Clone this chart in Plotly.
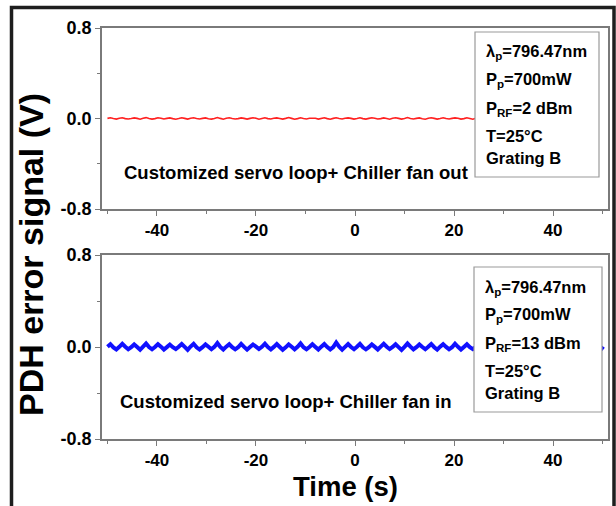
import plotly.graph_objects as go

W, H = 616, 506

# ---------------- data ----------------
t_start = -50.0
t_step = 0.6

red_v = [
    0.001, 0.006, 0.000, -0.005, 0.002, 0.007, -0.001, -0.004,
    0.000, 0.005, 0.001, -0.006, 0.002, 0.008, 0.000, -0.005,
    -0.001, 0.006, 0.002, -0.004, 0.001, 0.005, -0.001, -0.006,
    0.000, 0.007, 0.001, -0.005, 0.002, 0.006, 0.000, -0.004,
    0.001, 0.005, -0.002, -0.005, 0.000, 0.009, 0.001, -0.006,
    0.002, 0.006, 0.000, -0.004, -0.001, 0.005, 0.001, -0.005,
    0.001, 0.007, 0.002, -0.006, 0.000, 0.006, -0.001, -0.004,
    0.002, 0.005, 0.000, -0.005, 0.001, 0.008, 0.001, -0.006,
    -0.001, 0.006, 0.000, -0.004, 0.002, 0.005, 0.002, -0.005,
    0.000, 0.007, -0.001, -0.006, 0.001, 0.006, 0.000, -0.004,
    0.002, 0.005, 0.001, -0.005, 0.000, 0.006, -0.001, -0.005,
    0.001, 0.007, 0.002, -0.004, -0.001, 0.005, 0.000, -0.006,
    0.002, 0.006, 0.001, -0.005, 0.000, 0.008, 0.000, -0.004,
    0.001, 0.005, -0.002, -0.006, 0.002, 0.006, 0.001, -0.005,
    0.000, 0.007, 0.000, -0.004, 0.001, 0.005, 0.002, -0.005,
    -0.001, 0.006, 0.000, -0.006, 0.002, 0.007, -0.001, -0.004,
    0.000, 0.005, 0.001, -0.005, 0.001, 0.006, 0.000, -0.005,
    0.002, 0.008, 0.001, -0.004, 0.000, 0.005, -0.001, -0.006,
    0.001, 0.006, 0.002, -0.005, -0.001, 0.007, 0.000, -0.004,
    0.002, 0.005, 0.001, -0.005, 0.000, 0.006, 0.000, -0.005,
    0.001, 0.007, -0.001, -0.004,
]

blue_v = [
    0.002, 0.024, -0.003, -0.021, 0.001, 0.027, 0.002, -0.019,
    -0.002, 0.022, 0.000, -0.024, 0.003, 0.030, -0.001, -0.020,
    0.000, 0.025, 0.003, -0.022, -0.001, 0.021, -0.002, -0.018,
    0.002, 0.026, 0.001, -0.025, 0.004, 0.028, -0.003, -0.021,
    -0.001, 0.023, 0.002, -0.019, 0.001, 0.035, 0.000, -0.022,
    0.003, 0.024, -0.002, -0.020, -0.002, 0.027, 0.001, -0.023,
    0.000, 0.022, 0.003, -0.018, 0.002, 0.029, -0.001, -0.021,
    0.001, 0.025, 0.000, -0.024, -0.003, 0.023, 0.002, -0.020,
    0.002, 0.031, -0.002, -0.019, 0.000, 0.024, 0.001, -0.022,
    0.003, 0.026, -0.001, -0.021, -0.001, 0.038, 0.002, -0.023,
    0.001, 0.025, 0.000, -0.019, 0.002, 0.027, -0.003, -0.020,
    -0.002, 0.023, 0.001, -0.022, 0.003, 0.028, 0.002, -0.018,
    0.000, 0.024, -0.001, -0.025, 0.001, 0.030, 0.003, -0.021,
    -0.001, 0.022, 0.000, -0.019, 0.002, 0.026, -0.002, -0.023,
    0.003, 0.025, 0.001, -0.020, -0.002, 0.029, 0.002, -0.022,
    0.001, 0.024, -0.001, -0.018, 0.000, 0.027, 0.000, -0.021,
    0.002, 0.023, 0.003, -0.024, -0.001, 0.028, -0.002, -0.019,
    0.003, 0.025, 0.001, -0.022, 0.001, 0.026, 0.000, -0.020,
    -0.002, 0.024, 0.002, -0.021, 0.002, 0.029, -0.001, -0.023,
    0.000, 0.023, 0.001, -0.019, 0.001, 0.027, 0.003, -0.022,
    -0.001, 0.025, -0.002, -0.020, 0.002, 0.026, 0.000, -0.021,
]

x_tickvals = [-40, -20, 0, 20, 40]
x_ticktext = ["-40", "-20", "0", "20", "40"]
x_minorvals = [-50, -30, -10, 10, 30, 50]
y_tickvals = [-0.8, 0.0, 0.8]
y_ticktext = ["-0.8", "0.0", "0.8"]
y_minorvals = [-0.4, 0.4]

x_title = "Time (s)"
y_title = "PDH error signal (V)"
label_top = "Customized servo loop+ Chiller fan out"
label_bottom = "Customized servo loop+ Chiller fan in"
box_top_lines = ["λ<sub>p</sub>=796.47nm", "P<sub>p</sub>=700mW",
                 "P<sub>RF</sub>=2 dBm", "T=25°C", "Grating B"]
box_bottom_lines = ["λ<sub>p</sub>=796.47nm", "P<sub>p</sub>=700mW",
                    "P<sub>RF</sub>=13 dBm", "T=25°C", "Grating B"]

# ---------------- layout helpers ----------------
def px(x):
    return x / W

def py(y):
    return 1 - y / H

FONT = "Liberation Sans, Arial, sans-serif"
AX_COLOR = "#7a7a7a"

fig = go.Figure()

fig.add_trace(go.Scatter(y=red_v, x0=t_start, dx=t_step, mode="lines",
                         line=dict(color="#ff2020", width=1.6),
                         xaxis="x", yaxis="y", showlegend=False))
fig.add_trace(go.Scatter(y=blue_v, x0=t_start, dx=t_step, mode="lines",
                         line=dict(color="#1010ff", width=4),
                         xaxis="x2", yaxis="y2", showlegend=False))

xdom = [px(102), px(608)]

def xaxis_common(anchor):
    return dict(domain=xdom, anchor=anchor, range=[-51.1, 51.1], automargin=False,
                tickvals=x_tickvals, ticktext=x_ticktext,
                ticks="outside", ticklen=5, tickwidth=1.2, tickcolor=AX_COLOR,
                minor=dict(tickvals=x_minorvals, ticks="outside",
                           ticklen=3, tickcolor=AX_COLOR, tickwidth=1.2),
                showline=True, linecolor=AX_COLOR, linewidth=1.5, mirror=True,
                showgrid=False, zeroline=False,
                tickfont=dict(family=FONT, size=17, color="black", weight="bold"))

def yaxis_common(anchor, dom):
    return dict(domain=dom, anchor=anchor, range=[-0.8, 0.8], automargin=False,
                tickvals=y_tickvals, ticktext=y_ticktext,
                ticks="outside", ticklen=5, tickwidth=1.2, tickcolor=AX_COLOR,
                minor=dict(tickvals=y_minorvals, ticks="outside",
                           ticklen=3, tickcolor=AX_COLOR, tickwidth=1.2),
                showline=True, linecolor=AX_COLOR, linewidth=1.5, mirror=True,
                showgrid=False, zeroline=False,
                tickfont=dict(family=FONT, size=18, color="black", weight="bold"))

fig.update_layout(
    width=W, height=H,
    margin=dict(l=0, r=0, t=0, b=0, pad=0, autoexpand=False),
    paper_bgcolor="white", plot_bgcolor="white",
    xaxis=xaxis_common("y"),
    yaxis=yaxis_common("x", [py(209), py(28)]),
    xaxis2=xaxis_common("y2"),
    yaxis2=yaxis_common("x2", [py(439), py(255)]),
)

shapes = []
# outer dark frame
shapes.append(dict(type="rect", xref="paper", yref="paper",
                   x0=px(11.5), x1=px(614), y0=py(530), y1=py(7.5),
                   line=dict(color="#1e1e1e", width=3.5), fillcolor="rgba(0,0,0,0)"))
# info boxes
shapes.append(dict(type="rect", xref="paper", yref="paper",
                   x0=px(475), x1=px(599), y0=py(177), y1=py(32),
                   line=dict(color="#9a9a9a", width=1.2), fillcolor="white", layer="above"))
shapes.append(dict(type="rect", xref="paper", yref="paper",
                   x0=px(474), x1=px(602), y0=py(412), y1=py(267),
                   line=dict(color="#9a9a9a", width=1.2), fillcolor="white", layer="above"))
fig.update_layout(shapes=shapes)

ann = []
def text(x, y, s, size, xanchor="left", angle=0):
    ann.append(dict(xref="paper", yref="paper", x=px(x), y=py(y), text=s,
                    showarrow=False, xanchor=xanchor, yanchor="middle",
                    textangle=angle,
                    font=dict(family=FONT, size=size, color="black", weight="bold")))

top_y = [52, 80, 109, 136, 158]
for yy, s in zip(top_y, box_top_lines):
    text(484, yy, s, 16.5)
bot_y = [288, 315, 344, 371, 393]
for yy, s in zip(bot_y, box_bottom_lines):
    text(483, yy, s, 16.5)

text(122, 172, label_top, 18.5)
text(118, 401, label_bottom, 18.5)
text(345, 486, x_title, 27.5, xanchor="center")
text(31, 255, y_title, 34, xanchor="center", angle=-90)

fig.update_layout(annotations=ann)
fig.write_html("out.html")
